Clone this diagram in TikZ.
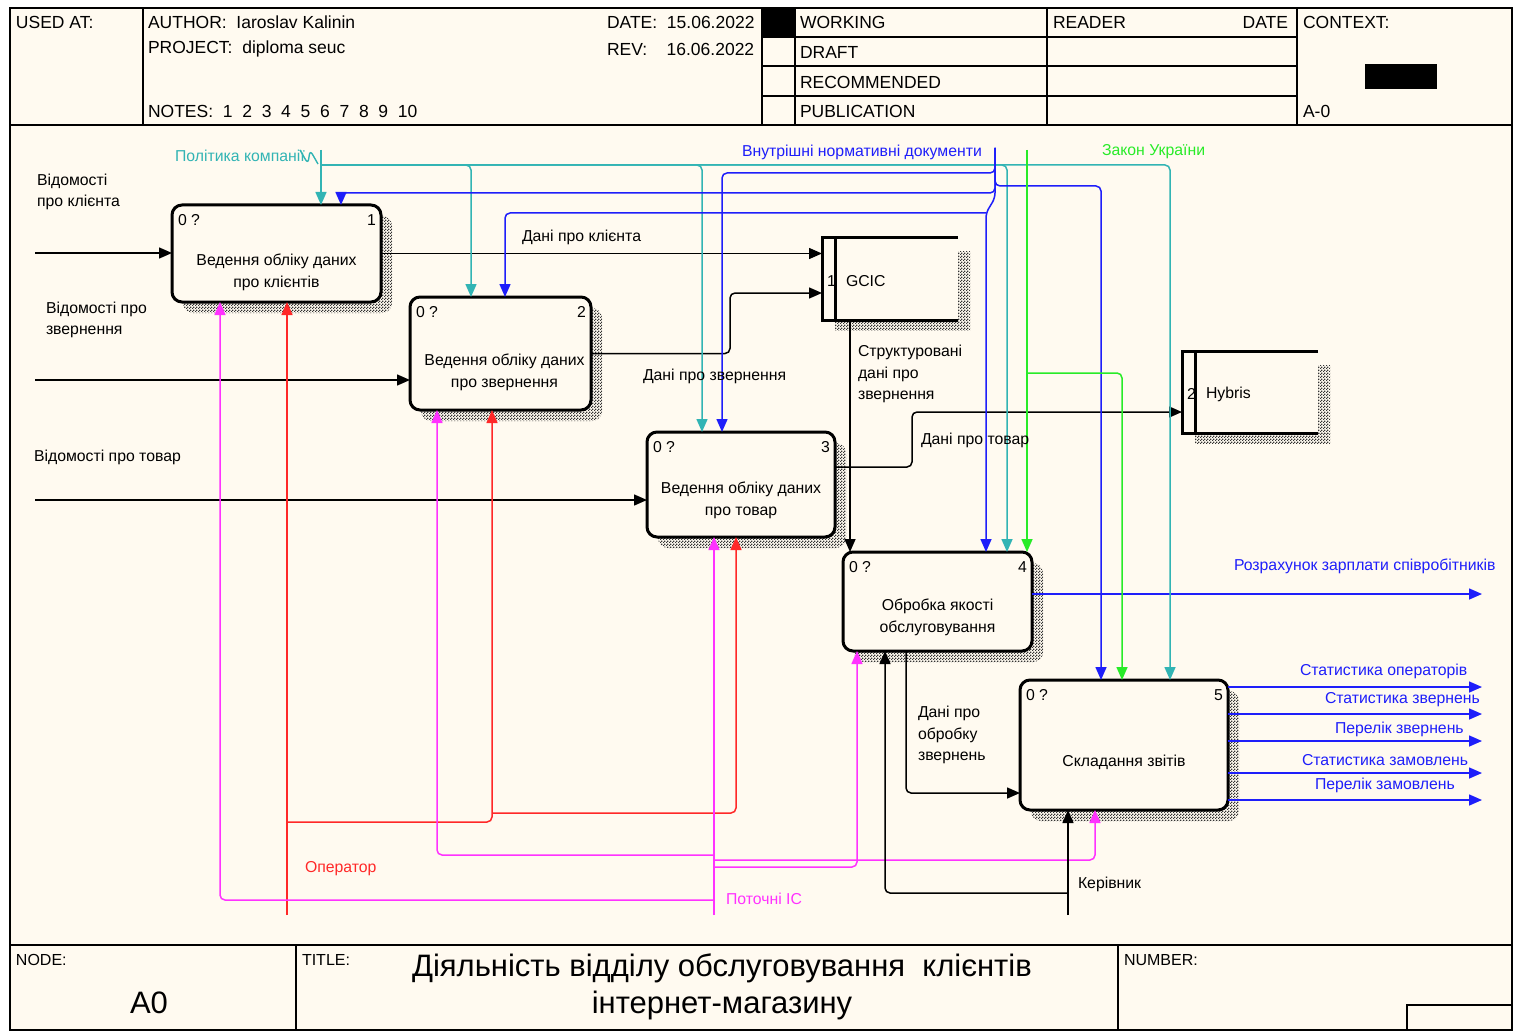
\documentclass[tikz,border=0pt]{standalone}
\usepackage{fontspec}
\setmainfont{Liberation Sans}
\usetikzlibrary{arrows.meta,patterns}
\definecolor{paper}{RGB}{255,250,240}
\definecolor{polcol}{RGB}{50,180,180}
\definecolor{doccol}{RGB}{30,30,250}
\definecolor{lawcol}{RGB}{40,235,40}
\definecolor{opcol}{RGB}{255,40,40}
\definecolor{iscol}{RGB}{255,50,255}
\pgfdeclarepatternformonly{checkdots}{\pgfqpoint{0pt}{0pt}}{\pgfqpoint{3pt}{3pt}}{\pgfqpoint{3pt}{3pt}}{%
    \pgfpathrectangle{\pgfqpoint{0pt}{0pt}}{\pgfqpoint{1.5pt}{1.5pt}}%
    \pgfpathrectangle{\pgfqpoint{1.5pt}{1.5pt}}{\pgfqpoint{1.5pt}{1.5pt}}%
    \pgfusepath{fill}}
\begin{document}
\begin{tikzpicture}[x=1pt,y=-1pt,
    every node/.style={inner sep=0pt,outer sep=0pt},
    txt/.style={font=\fontsize{15.8}{21.5}\selectfont,anchor=west,align=left},
    hdr/.style={font=\fontsize{17.5}{20}\selectfont,anchor=west},
    grid/.style={line width=1.5pt},
    hatch/.style={pattern=checkdots,pattern color=black!80},
    actbox/.style={draw,line width=3pt,rounded corners=10pt,fill=paper,
        preaction={draw=none,hatch,
            transform canvas={xshift=11pt,yshift=-11pt}}},
    store/.style={minimum width=136pt,minimum height=82pt},
    storeln/.style={line width=3pt},
    flow/.style={line width=1.5pt,rounded corners=5pt,-{Triangle[length=13pt,width=11pt]}},
    plain/.style={line width=1.4pt,rounded corners=5pt}
]
        % frame
        \fill[white] (0,0) rectangle (1514,1032);
        \fill[paper] (10,8) rectangle (1512,1030);
        \draw[line width=2pt] (10,8) rectangle (1512,1030);
        \draw[grid] (10,125) -- (1512,125);
        \draw[grid] (10,945) -- (1512,945);
        \foreach \x in {143,762,795,1047,1297} \draw[grid] (\x,8) -- (\x,125);
        \foreach \y in {37,66,96} \draw[grid] (762,\y) -- (1297,\y);
        \fill (762,8) rectangle (795,37);
        \fill (1365,64) rectangle (1437,89);
        \foreach \x in {296,1118} \draw[grid] (\x,945) -- (\x,1030);
        \draw[grid] (1407,1030) |- (1512,1005);
        % header
        \node[hdr] (usedat)  at (16,22)   {USED AT:};
        \node[hdr] (author)  at (148,22)  {AUTHOR:\ \ Iaroslav Kalinin};
        \node[hdr] (project) at (148,49)  {PROJECT:\ \ diploma seuc};
        \node[hdr] (notes)   at (148,111) {NOTES:\ \ 1\ \ 2\ \ 3\ \ 4\ \ 5\ \ 6\ \ 7\ \ 8\ \ 9\ \ 10};
        \node[hdr] (date)    at (607,22)  {DATE:\ \ 15.06.2022};
        \node[hdr] (rev)     at (607,49)  {REV:\ \ \ \ 16.06.2022};
        \node[hdr] (working) at (800,22)  {WORKING};
        \node[hdr] (draft)   at (800,52)  {DRAFT};
        \node[hdr] (recom)   at (800,82)  {RECOMMENDED};
        \node[hdr] (publ)    at (800,111) {PUBLICATION};
        \node[hdr] (reader)  at (1053,22) {READER};
        \node[hdr,anchor=east] (rdate) at (1288,22) {DATE};
        \node[hdr] (context) at (1303,22) {CONTEXT:};
        \node[hdr] (aminus)  at (1303,111) {A-0};
        % footer
        \node[hdr,font=\fontsize{16}{19}\selectfont] (nodelb) at (16,960) {NODE:};
        \node[font=\fontsize{31}{36}\selectfont] (nodeid) at (149,1003) {A0};
        \node[hdr,font=\fontsize{16}{19}\selectfont] (titlelb) at (302,960) {TITLE:};
        \node[font=\fontsize{31}{37}\selectfont,align=center] (title) at (722,987)
            {Діяльність відділу обслуговування\ \ клієнтів\\інтернет-магазину};
        \node[hdr,font=\fontsize{16}{19}\selectfont] (numlb) at (1124,960) {NUMBER:};
        % boxes
        \node[actbox,minimum width=209pt,minimum height=97pt]  (a1) at (276.5,253.5) {};
        \node[actbox,minimum width=181pt,minimum height=113pt] (a2) at (500.5,353.5) {};
        \node[actbox,minimum width=188pt,minimum height=105pt] (a3) at (741,484.5) {};
        \node[actbox,minimum width=189pt,minimum height=99pt]  (a4) at (937.5,601.5) {};
        \node[actbox,minimum width=208pt,minimum height=130pt] (a5) at (1124,745) {};
        \foreach \b/\n in {a1/1,a2/2,a3/3,a4/4,a5/5} {
            \node[txt] (\b q) at ([xshift=6pt,yshift=-15pt]\b.north west) {0 ?};
            \node[txt,anchor=east] (\b n) at ([xshift=-5pt,yshift=-15pt]\b.north east) {\n};
        }
        \node[txt,align=center,anchor=center] (a1t) at ([yshift=-19pt]a1.center) {Ведення обліку даних\\про клієнтів};
        \node[txt,align=center,anchor=center] (a2t) at ([xshift=4pt,yshift=-19pt]a2.center) {Ведення обліку даних\\про звернення};
        \node[txt,align=center,anchor=center] (a3t) at ([yshift=-16pt]a3.center) {Ведення обліку даних\\про товар};
        \node[txt,align=center,anchor=center] (a4t) at ([yshift=-16pt]a4.center) {Обробка якості\\обслуговування};
        \node[txt,align=center,anchor=center] (a5t) at ([yshift=-17pt]a5.center) {Складання звітів};
        % stores
        \node[store] (gcic)   at (890,279)  {};
        \node[store] (hybris) at (1250,392) {};
        \foreach \s in {gcic,hybris} {
            \fill[hatch] ([xshift=13pt]\s.south west) rectangle ([xshift=12pt,yshift=-10pt]\s.south east);
            \fill[hatch] ([yshift=-14pt]\s.north east) rectangle ([xshift=12pt]\s.south east);
            \draw[storeln] (\s.north east) -- (\s.north west) -- (\s.south west) -- (\s.south east);
            \draw[storeln] ([xshift=13pt]\s.north west) -- ([xshift=13pt]\s.south west);
        }
        \node[txt] (gcicn) at ([xshift=5pt,yshift=-2pt]gcic.west) {1};
        \node[txt] (gcict) at ([xshift=24pt,yshift=-2pt]gcic.west) {GCIC};
        \node[txt] (hybn)  at ([xshift=5pt,yshift=-2pt]hybris.west) {2};
        \node[txt] (hybt)  at ([xshift=24pt,yshift=-2pt]hybris.west) {Hybris};
        % free ends
        \coordinate (in1) at (35,253);
        \coordinate (in2) at (35,380);
        \coordinate (in3) at (35,500);
        \coordinate (pk)  at (321,150);
        \coordinate (pk1) at (321,165);
        \coordinate (vnd) at (995,148);
        \coordinate (vnd1) at (986,213);
        \coordinate (zu)  at (1027,150);
        \coordinate (zu1) at (1027,373);
        \coordinate (op)  at (287,915);
        \coordinate (op1) at (287,822);
        \coordinate (op2) at (492,813);
        \coordinate (is)  at (714,915);
        \coordinate (kr)  at (1068,915);
        \coordinate (kr1) at (1068,893);
        \coordinate (zp)  at (1482,594);
        \foreach \k/\y in {1/687,2/714,3/741,4/773,5/800} \coordinate (out\k) at (1482,\y);
        % inputs and outputs
        \draw[flow] (in1) -- (in1 -| a1.west);
        \draw[flow] (in2) -- (in2 -| a2.west);
        \draw[flow] (in3) -- (in3 -| a3.west);
        \draw[flow] (a1.east) -- (a1.east -| gcic.west);
        \draw[flow] (a2.east) -- ++(139,0) |- ([yshift=-14pt]gcic.west);
        \draw[flow] ([yshift=17.5pt]a3.east) -- ++(77,0) |- ([yshift=-20pt]hybris.west);
        \draw[flow] ([xshift=-40pt]gcic.south) -- ([xshift=-40pt]gcic.south |- a4.north);
        \draw[flow] ([xshift=-31.5pt]a4.south) |- ([yshift=-48pt]a5.west);
        \draw[flow,doccol] ([yshift=7.5pt]a4.east) -- (zp);
        \foreach \k in {1,...,5} \draw[flow,doccol] (out\k -| a5.east) -- (out\k);
        % controls
        \draw[plain,polcol] (300,150) -- (308,164) -- (310,150) -- (318,164);
        \draw[flow,polcol] (pk) -- (pk |- a1.north);
        \draw[flow,polcol] (pk1) -| ([xshift=-29.5pt]a2.north);
        \draw[flow,polcol] (pk1) -| ([xshift=-39pt]a3.north);
        \draw[flow,polcol] (pk1) -| ([xshift=69.5pt]a4.north);
        \draw[flow,polcol] (pk1) -| ([xshift=46pt]a5.north);
        \draw[flow,doccol] (vnd) -- (995,173) -| ([xshift=-19pt]a3.north);
        \draw[flow,doccol] (vnd) -- (995,193) -| ([xshift=64.5pt]a1.north);
        \draw[flow,doccol] (vnd) -- (995,186) -| ([xshift=-23pt]a5.north);
        \draw[flow,doccol] (vnd) -- (995,198) -- (vnd1) -- (vnd1 |- a4.north);
        \draw[flow,doccol] (vnd1) -| ([xshift=4.5pt]a2.north);
        \draw[flow,lawcol] (zu) -- (zu |- a4.north);
        \draw[flow,lawcol] (zu1) -| ([xshift=-2pt]a5.north);
        % mechanisms
        \draw[flow,opcol] (op) -- (op |- a1.south);
        \draw[flow,opcol] (op1) -| ([xshift=-8.5pt]a2.south);
        \draw[flow,opcol] (op2) -| ([xshift=-5pt]a3.south);
        \draw[flow,iscol] (is) -- (is |- a3.south);
        \draw[flow,iscol] (714,900) -| ([xshift=-56.5pt]a1.south);
        \draw[flow,iscol] (714,855) -| ([xshift=-63.5pt]a2.south);
        \draw[flow,iscol] (714,867) -| ([xshift=-80.5pt]a4.south);
        \draw[flow,iscol] (714,860) -| ([xshift=-29pt]a5.south);
        \draw[flow] (kr) -- (kr |- a5.south);
        \draw[flow] (kr1) -| ([xshift=-52.5pt]a4.south);
        % labels
        \node[txt] (l1)  at (37,192)   {Відомості\\про клієнта};
        \node[txt] (l2)  at (46,320)   {Відомості про\\звернення};
        \node[txt] (l3)  at (34,457)   {Відомості про товар};
        \node[txt] (l4)  at (522,237)  {Дані про клієнта};
        \node[txt] (l5)  at (643,376)  {Дані про звернення};
        \node[txt] (l6)  at (858,374)  {Структуровані\\дані про\\звернення};
        \node[txt] (l7)  at (921,440)  {Дані про товар};
        \node[txt,doccol] (l8) at (1234,566) {Розрахунок зарплати співробітників};
        \node[txt] (l9)  at (918,735)  {Дані про\\обробку\\звернень};
        \node[txt,doccol] (l10) at (1300,671) {Статистика операторів};
        \node[txt,doccol] (l11) at (1325,700) {Статистика звернень};
        \node[txt,doccol] (l12) at (1335,729) {Перелік звернень};
        \node[txt,doccol] (l13) at (1302,760) {Статистика замовлень};
        \node[txt,doccol] (l14) at (1315,785) {Перелік замовлень};
        \node[txt,opcol] (l15) at (305,869)  {Оператор};
        \node[txt,iscol] (l16) at (726,899)  {Поточні ІС};
        \node[txt] (l17) at (1078,884) {Керівник};
        \node[txt,polcol] (l18) at (175,156) {Політика компанії};
        \node[txt,doccol] (l19) at (742,152) {Внутрішні нормативні документи};
        \node[txt,lawcol] (l20) at (1102,152) {Закон України};
\end{tikzpicture}
\end{document}
